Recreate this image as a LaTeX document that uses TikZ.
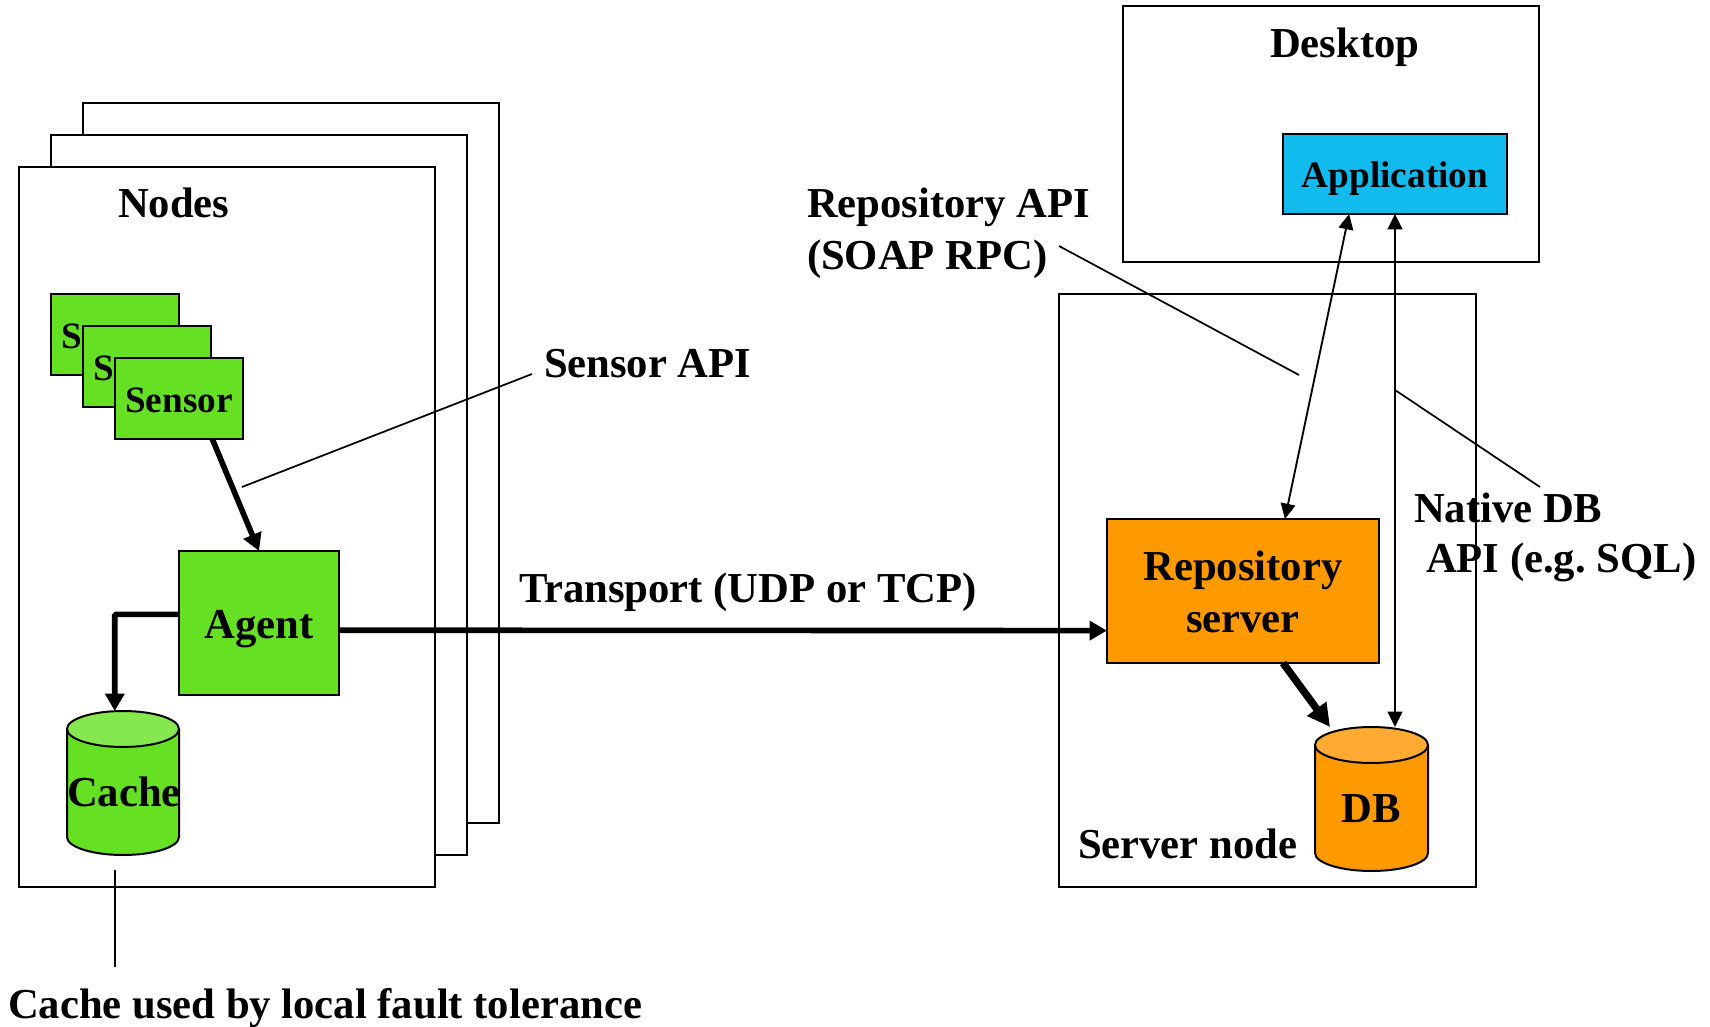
\documentclass[tikz,border=0pt]{standalone}
\usepackage{fontspec}
\setmainfont{Liberation Serif}
\usetikzlibrary{arrows.meta,calc}
\definecolor{grn}{HTML}{66E022}
\definecolor{grntop}{HTML}{85E84E}
\definecolor{org}{HTML}{FF9900}
\definecolor{orgtop}{HTML}{FFAA33}
\definecolor{blu}{HTML}{11BBEE}
\newcommand\pbox[8][]{%
  \pgfmathsetmacro\bw{(#5-#3)*.75}%
  \pgfmathsetmacro\bth{(#7-#4)*.75}%
  \pgfmathsetmacro\btd{(#6-#7)*.75}%
  \node[boxnode,minimum width=\bw pt,text height=\bth pt,text depth=\btd pt,#1,anchor=north west] (#2) at (#3,#4) {#8};%
}
\newcommand\drum[7]{% x1, x2, top, midtop, midbottom, bottom, colours
  \pgfmathsetmacro\rx{(#2-#1)/2*.75}%
  \pgfmathsetmacro\ry{(#4-#3)*.75}%
  \fill[fill=#7] (#1,#4) -- (#1,#5) arc[start angle=180,end angle=360,x radius=\rx pt,y radius=\ry pt] -- (#2,#4) -- cycle;
  \draw[outln] (#1,#4) -- (#1,#5) arc[start angle=180,end angle=360,x radius=\rx pt,y radius=\ry pt] -- (#2,#4);
  \filldraw[outln,fill=#7top] (#1,#4) arc[start angle=180,end angle=540,x radius=\rx pt,y radius=\ry pt];
}
\tikzset{
  x=.75pt,y=-.75pt,
  outln/.style={draw=black,line width=1.5pt},
  boxnode/.style={draw=black,line width=1.5pt,fill=white,inner sep=0pt,outer sep=0pt,font=\bigtxt},
  lbl/.style={inner sep=0pt,outer sep=0pt,anchor=base west,font=\bigtxt},
  leader/.style={draw=black,line width=1.3pt},
  fine/.style={draw=black,line width=1.4pt,{Triangle[length=11.5pt,width=11pt]}-{Triangle[length=11.5pt,width=11pt]}},
  heavy/.style={draw=black,line width=4.2pt,-{Triangle[length=13pt,width=14pt]}},
  heaviest/.style={draw=black,line width=5.6pt,-{Triangle[length=17pt,width=17pt]}},
}
\newcommand\bigtxt{\fontsize{32pt}{38.5pt}\selectfont\bfseries\frenchspacing}
\newcommand\smalltxt{\fontsize{27.9pt}{33pt}\selectfont\bfseries}
\begin{document}
\begin{tikzpicture}
\useasboundingbox (0,0) rectangle (1710,1027);
\fill[white] (0,0) rectangle (1710,1027);
% node stacks
\pbox{nodeb}{83}{103}{499}{823}{200}{}
\pbox{nodem}{51}{135}{467}{855}{200}{}
\pbox{nodef}{19}{167}{435}{887}{300}{}
\node[lbl] (nodes) at (118,218) {Nodes};
% sensors
\pbox[fill=grn,font=\smalltxt]{sa}{51}{294}{179}{375}{348}{Sensor}
\pbox[fill=grn,font=\smalltxt]{sb}{83}{326}{211}{407}{380}{Sensor}
\pbox[fill=grn,font=\smalltxt]{sc}{115}{358}{243}{439}{412}{Sensor}
\pbox[fill=grn]{agent}{179}{551}{339}{695}{638}{Agent}
% cache
\drum{67}{179}{711}{729}{837}{855}{grn}
\node[inner sep=0pt,outer sep=0pt,minimum width=84pt,minimum height=108pt,anchor=north west,text height=71.25pt,text depth=36.75pt,font=\bigtxt] (cache) at (67,711) {Cache};
% server side
\pbox{server}{1059}{294}{1476}{887}{400}{}
\pbox{desktop}{1123}{6}{1539}{262}{57}{}
\node[lbl] (desktoplabel) at (1270,58) {Desktop};
\pbox[fill=blu,font=\smalltxt]{app}{1283}{134}{1507}{214}{188}{Application}
\pbox[fill=org,align=center]{repo}{1107}{519}{1379}{663}{632}{Repository\\server}
\drum{1315}{1428}{727}{745}{853}{871}{org}
\node[inner sep=0pt,outer sep=0pt,minimum width=84.75pt,minimum height=108pt,anchor=north west,text height=71.25pt,text depth=36.75pt,font=\bigtxt] (db) at (1315,727) {DB};
% labels
\node[lbl] (servernode) at (1078,858) {Server node};
\node[lbl] (sensorapi) at (544,377) {Sensor API};
\node[lbl] (transport) at (519,602) {Transport (UDP or TCP)};
\node[lbl,align=left] (repoapi) at (807,269) {Repository API\\(SOAP RPC)};
\node[lbl] (nativea) at (1414,522) {Native DB};
\node[lbl] (nativeb) at (1426,572) {API (e.g. SQL)};
\node[lbl] (cachenote) at (8,1018) {Cache used by local fault tolerance};
% free ends of the leader lines
\coordinate (sa1) at (242,487);
\coordinate (sa2) at (532,374);
\coordinate (ra1) at (1059,246);
\coordinate (ra2) at (1299,375);
\coordinate (na1) at (1395,390);
\coordinate (na2) at (1540,487);
\coordinate (cn1) at (115,870);
\coordinate (cn2) at (115,967);
\draw[leader] (sa1) -- (sa2);
\draw[leader] (ra1) -- (ra2);
\draw[leader] (na1) -- (na2);
\draw[leader] (cn1) -- (cn2);
% connectors
\draw[heavy] ($(sc.south west)!.76!(sc.south east)$) -- (agent.north);
\draw[heavy,rounded corners=1pt] ($(agent.north west)!.44!(agent.south west)$) -| ($(cache.north west)!.42!(cache.north east)$);
\draw[heavy] ($(agent.north east)!.55!(agent.south east)$) -- ($(repo.north west)!.775!(repo.south west)$);
\draw[heaviest] ($(repo.south west)!.647!(repo.south east)$) -- ($(db.north west)!.133!(db.north east)$);
\draw[fine] ($(app.south west)!.295!(app.south east)$) -- ($(repo.north west)!.654!(repo.north east)$);
\draw[fine] (app.south) -- ($(db.north west)!.708!(db.north east)$);
\end{tikzpicture}
\end{document}
